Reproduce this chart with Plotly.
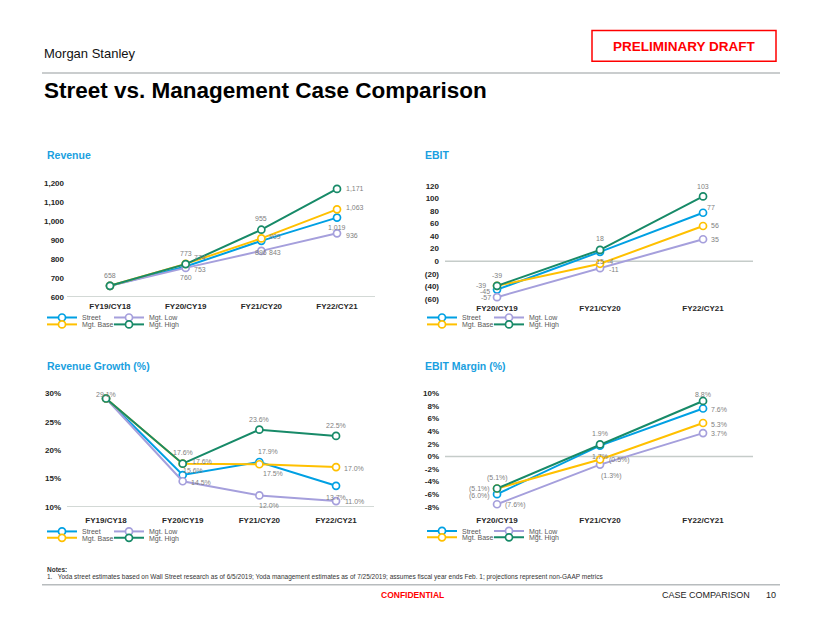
import plotly.graph_objects as go

W, H = 822, 635
FONT = "Liberation Sans, Arial, sans-serif"

# ---------------- data ----------------
series_names = ["Street", "Mgt. Low", "Mgt. Base", "Mgt. High"]
series_colors = ["#00A0E3", "#A59FDC", "#FFC000", "#178A68"]

rev_categories = ["FY19/CY18", "FY20/CY19", "FY21/CY20", "FY22/CY21"]
rev_street = [658, 760, 896, 1019]
rev_low = [658, 753, 843, 936]
rev_base = [658, 774, 909, 1063]
rev_high = [658, 773, 955, 1171]

ebit_categories = ["FY20/CY19", "FY21/CY20", "FY22/CY21"]
ebit_street = [-45, 15, 77]
ebit_low = [-57, -11, 35]
ebit_base = [-39, -4, 56]
ebit_high = [-39, 18, 103]

growth_street = [29.1, 15.6, 17.9, 13.7]
growth_low = [29.1, 14.5, 12.0, 11.0]
growth_base = [29.1, 17.6, 17.5, 17.0]
growth_high = [29.1, 17.6, 23.6, 22.5]

margin_street = [-6.0, 1.7, 7.6]
margin_low = [-7.6, -1.3, 3.7]
margin_base = [-5.1, -0.5, 5.3]
margin_high = [-5.1, 1.9, 8.8]

rev_tickvals = [600, 700, 800, 900, 1000, 1100, 1200]
rev_ticktext = ["600", "700", "800", "900", "1,000", "1,100", "1,200"]
ebit_tickvals = [-60, -40, -20, 0, 20, 40, 60, 80, 100, 120]
ebit_ticktext = ["(60)", "(40)", "(20)", "0", "20", "40", "60", "80", "100", "120"]
growth_tickvals = [10, 15, 20, 25, 30]
growth_ticktext = ["10%", "15%", "20%", "25%", "30%"]
margin_tickvals = [-8, -6, -4, -2, 0, 2, 4, 6, 8, 10]
margin_ticktext = ["-8%", "-6%", "-4%", "-2%", "0%", "2%", "4%", "6%", "8%", "10%"]

# ---------------- label placement (style, px offsets: dx right, dy down) ----------------
rev_label_offsets = [
    [None, (0, 11), (0, 12), (0, 10)],
    [None, (14, 2), (14, 2), (15, 2)],
    [None, (14, -6), (14, -2), (18, -2)],
    [(0, -10), (0, -11), (0, -11), (18, 0)],
]
ebit_label_offsets = [
    [(-12, 2), (0, 10), (8, -5)],
    [(-11, 0), (14, 1), (12, 0)],
    [(-16, 0), (10, -2), (12, 0)],
    [(0, -10), (0, -11), (0, -10)],
]
growth_label_offsets = [
    [None, (10, -5), (9, -10), (0, 12)],
    [None, (18, 1), (10, 10), (18, 0)],
    [None, (19, -2), (14, 9), (18, 1)],
    [(0, -4), (0, -11), (0, -10), (0, -10)],
]
margin_label_offsets = [
    [(-18, 2), (0, 11), (16, 1)],
    [(18, 1), (11, 11), (16, 0)],
    [(-18, 0), (19, 0), (16, 1)],
    [(0, -11), (0, -11), (0, -6)],
]


def fmt_rev(v):
    return f"{v:,}"


def fmt_ebit(v):
    return f"{v}"


def fmt_pct(v):
    return f"{v:.1f}%"


def fmt_pct_paren(v):
    return f"({abs(v):.1f}%)" if v < 0 else f"{v:.1f}%"


def PX(x):
    return x / W


def PY(y):
    return 1 - y / H


charts = [
    dict(title="Revenue", cats=rev_categories,
         data=[rev_street, rev_low, rev_base, rev_high], fmt=fmt_rev,
         offsets=rev_label_offsets, tickvals=rev_tickvals, ticktext=rev_ticktext,
         yrange=[600, 1200], xdom=(67, 375), ydom=(182, 297), xrange=[-0.568, 3.502],
         baseline=600, title_pos=(45, 153), legend_pos=(42, 318, 325), standoff=2, xstandoff=3),
    dict(title="EBIT", cats=ebit_categories,
         data=[ebit_street, ebit_low, ebit_base, ebit_high], fmt=fmt_ebit,
         offsets=ebit_label_offsets, tickvals=ebit_tickvals, ticktext=ebit_ticktext,
         yrange=[-60, 120], xdom=(445, 753), ydom=(184.3, 299.3), xrange=[-0.505, 2.485],
         baseline=0, title_pos=(423, 153), legend_pos=(422, 318, 325), standoff=5, xstandoff=3),
    dict(title="Revenue Growth (%)", cats=rev_categories,
         data=[growth_street, growth_low, growth_base, growth_high], fmt=fmt_pct,
         offsets=growth_label_offsets, tickvals=growth_tickvals, ticktext=growth_ticktext,
         yrange=[10, 30], xdom=(67, 374), ydom=(395, 510), xrange=[-0.509, 3.495],
         baseline=10, title_pos=(45, 367), legend_pos=(42, 535, 541.5), standoff=5, xstandoff=7),
    dict(title="EBIT Margin (%)", cats=ebit_categories,
         data=[margin_street, margin_low, margin_base, margin_high], fmt=fmt_pct_paren,
         offsets=margin_label_offsets, tickvals=margin_tickvals, ticktext=margin_ticktext,
         yrange=[-8, 10], xdom=(445, 753), ydom=(395, 510), xrange=[-0.505, 2.485],
         baseline=0, title_pos=(423, 367), legend_pos=(422, 534.5, 541), standoff=5, xstandoff=7),
]

fig = go.Figure()
annotations = []
shapes = []
layout = dict(
    width=W, height=H,
    margin=dict(l=0, r=0, t=0, b=0),
    paper_bgcolor="white", plot_bgcolor="white",
    font=dict(family=FONT, color="#262626"),
    showlegend=True,
    hovermode=False,
)

for k, ch in enumerate(charts):
    n = k + 1
    xa = "x" if n == 1 else f"x{n}"
    ya = "y" if n == 1 else f"y{n}"
    xkey = "xaxis" if n == 1 else f"xaxis{n}"
    ykey = "yaxis" if n == 1 else f"yaxis{n}"
    legA = "legend" if k == 0 else f"legend{2 * k + 1}"
    legB = f"legend{2 * k + 2}"

    for i, (name, color) in enumerate(zip(series_names, series_colors)):
        fig.add_trace(go.Scatter(
            x=ch["cats"], y=ch["data"][i], name=name,
            mode="lines+markers",
            line=dict(color=color, width=2),
            marker=dict(symbol="circle", size=7, color="white",
                        line=dict(color=color, width=1.7)),
            xaxis=xa, yaxis=ya, cliponaxis=False,
            legend=legA if i < 2 else legB,
            legendwidth=22 if i in (0, 2) else 50,
            hoverinfo="skip",
        ))
        for j, v in enumerate(ch["data"][i]):
            off = ch["offsets"][i][j]
            if off is None:
                continue
            annotations.append(dict(
                x=ch["cats"][j], y=v, xref=xa, yref=ya,
                text=ch["fmt"](v), showarrow=False,
                xshift=off[0], yshift=-off[1],
                xanchor="center", yanchor="middle",
                font=dict(family=FONT, size=7, color="#7f7f7f"),
            ))

    layout[xkey] = dict(
        domain=[PX(ch["xdom"][0]), PX(ch["xdom"][1])],
        anchor=ya, type="category", range=ch["xrange"],
        showgrid=False, zeroline=False, showline=False, ticks="",
        ticklabelstandoff=ch["xstandoff"],
        tickfont=dict(family=FONT, size=8, color="#262626", weight="bold"),
        fixedrange=True,
    )
    layout[ykey] = dict(
        domain=[PY(ch["ydom"][1]), PY(ch["ydom"][0])],
        anchor=xa, range=ch["yrange"],
        tickvals=ch["tickvals"], ticktext=ch["ticktext"],
        showgrid=False, zeroline=False, showline=False, ticks="",
        ticklabelstandoff=ch["standoff"],
        tickfont=dict(family=FONT, size=8, color="#262626", weight="bold"),
        fixedrange=True,
    )
    # baseline / zero line
    shapes.append(dict(
        type="line", xref=f"{xa} domain", yref=ya,
        x0=0, x1=1, y0=ch["baseline"], y1=ch["baseline"],
        line=dict(color="#C5CCC9", width=1.5), layer="below",
    ))
    # chart title
    annotations.append(dict(
        x=PX(ch["title_pos"][0]), y=PY(ch["title_pos"][1]), xref="paper", yref="paper",
        text=f"<b>{ch['title']}</b>", showarrow=False, xanchor="left", yanchor="middle",
        font=dict(family=FONT, size=10.5, color="#1A9FE0"),
    ))
    lx, ly1, ly2 = ch["legend_pos"]
    for key, ly in ((legA, ly1), (legB, ly2)):
        layout[key] = dict(
            x=PX(lx), y=PY(ly), xanchor="left", yanchor="middle",
            orientation="h", bgcolor="rgba(0,0,0,0)", borderwidth=0,
            entrywidthmode="pixels",
            font=dict(family=FONT, size=7, color="#595959"),
            itemclick=False, itemdoubleclick=False, tracegroupgap=0,
        )

# ---------------- page furniture ----------------
annotations += [
    dict(x=PX(42), y=PY(50), xref="paper", yref="paper", text="Morgan Stanley",
         showarrow=False, xanchor="left", yanchor="middle",
         font=dict(family=FONT, size=13, color="#111111")),
    dict(x=PX(684), y=PY(43), xref="paper", yref="paper", text="<b>PRELIMINARY DRAFT</b>",
         showarrow=False, xanchor="center", yanchor="middle",
         font=dict(family=FONT, size=13.5, color="#FF0000")),
    dict(x=PX(42), y=PY(88), xref="paper", yref="paper",
         text="<b>Street vs. Management Case Comparison</b>",
         showarrow=False, xanchor="left", yanchor="middle",
         font=dict(family=FONT, size=22.5, color="#000000")),
    dict(x=PX(45), y=PY(574), xref="paper", yref="paper", text="<b>Notes:</b>",
         showarrow=False, xanchor="left", yanchor="middle",
         font=dict(family=FONT, size=6.5, color="#333333")),
    dict(x=PX(45), y=PY(581), xref="paper", yref="paper",
         text="1.   Yoda street estimates based on Wall Street research as of 6/5/2019; Yoda management estimates as of 7/25/2019; assumes fiscal year ends Feb. 1; projections represent non-GAAP metrics",
         showarrow=False, xanchor="left", yanchor="middle",
         font=dict(family=FONT, size=6.5, color="#333333")),
    dict(x=PX(412), y=PY(600), xref="paper", yref="paper", text="<b>CONFIDENTIAL</b>",
         showarrow=False, xanchor="center", yanchor="middle",
         font=dict(family=FONT, size=8.5, color="#FF0000")),
    dict(x=PX(752), y=PY(600), xref="paper", yref="paper", text="CASE COMPARISON",
         showarrow=False, xanchor="right", yanchor="middle",
         font=dict(family=FONT, size=9, color="#222222")),
    dict(x=PX(778), y=PY(600), xref="paper", yref="paper", text="10",
         showarrow=False, xanchor="right", yanchor="middle",
         font=dict(family=FONT, size=9, color="#222222")),
]
shapes += [
    dict(type="rect", xref="paper", yref="paper", x0=PX(592), x1=PX(776), y0=PY(58), y1=PY(27),
         line=dict(color="#FF0000", width=1.5)),
    dict(type="line", xref="paper", yref="paper", x0=PX(42), x1=PX(780), y0=PY(70), y1=PY(70),
         line=dict(color="#B8BCBE", width=1.5)),
    dict(type="line", xref="paper", yref="paper", x0=PX(42), x1=PX(780), y0=PY(589), y1=PY(589),
         line=dict(color="#B8BCBE", width=1.5)),
]

layout["annotations"] = annotations
layout["shapes"] = shapes
fig.update_layout(**layout)
fig.write_html("out.html")
